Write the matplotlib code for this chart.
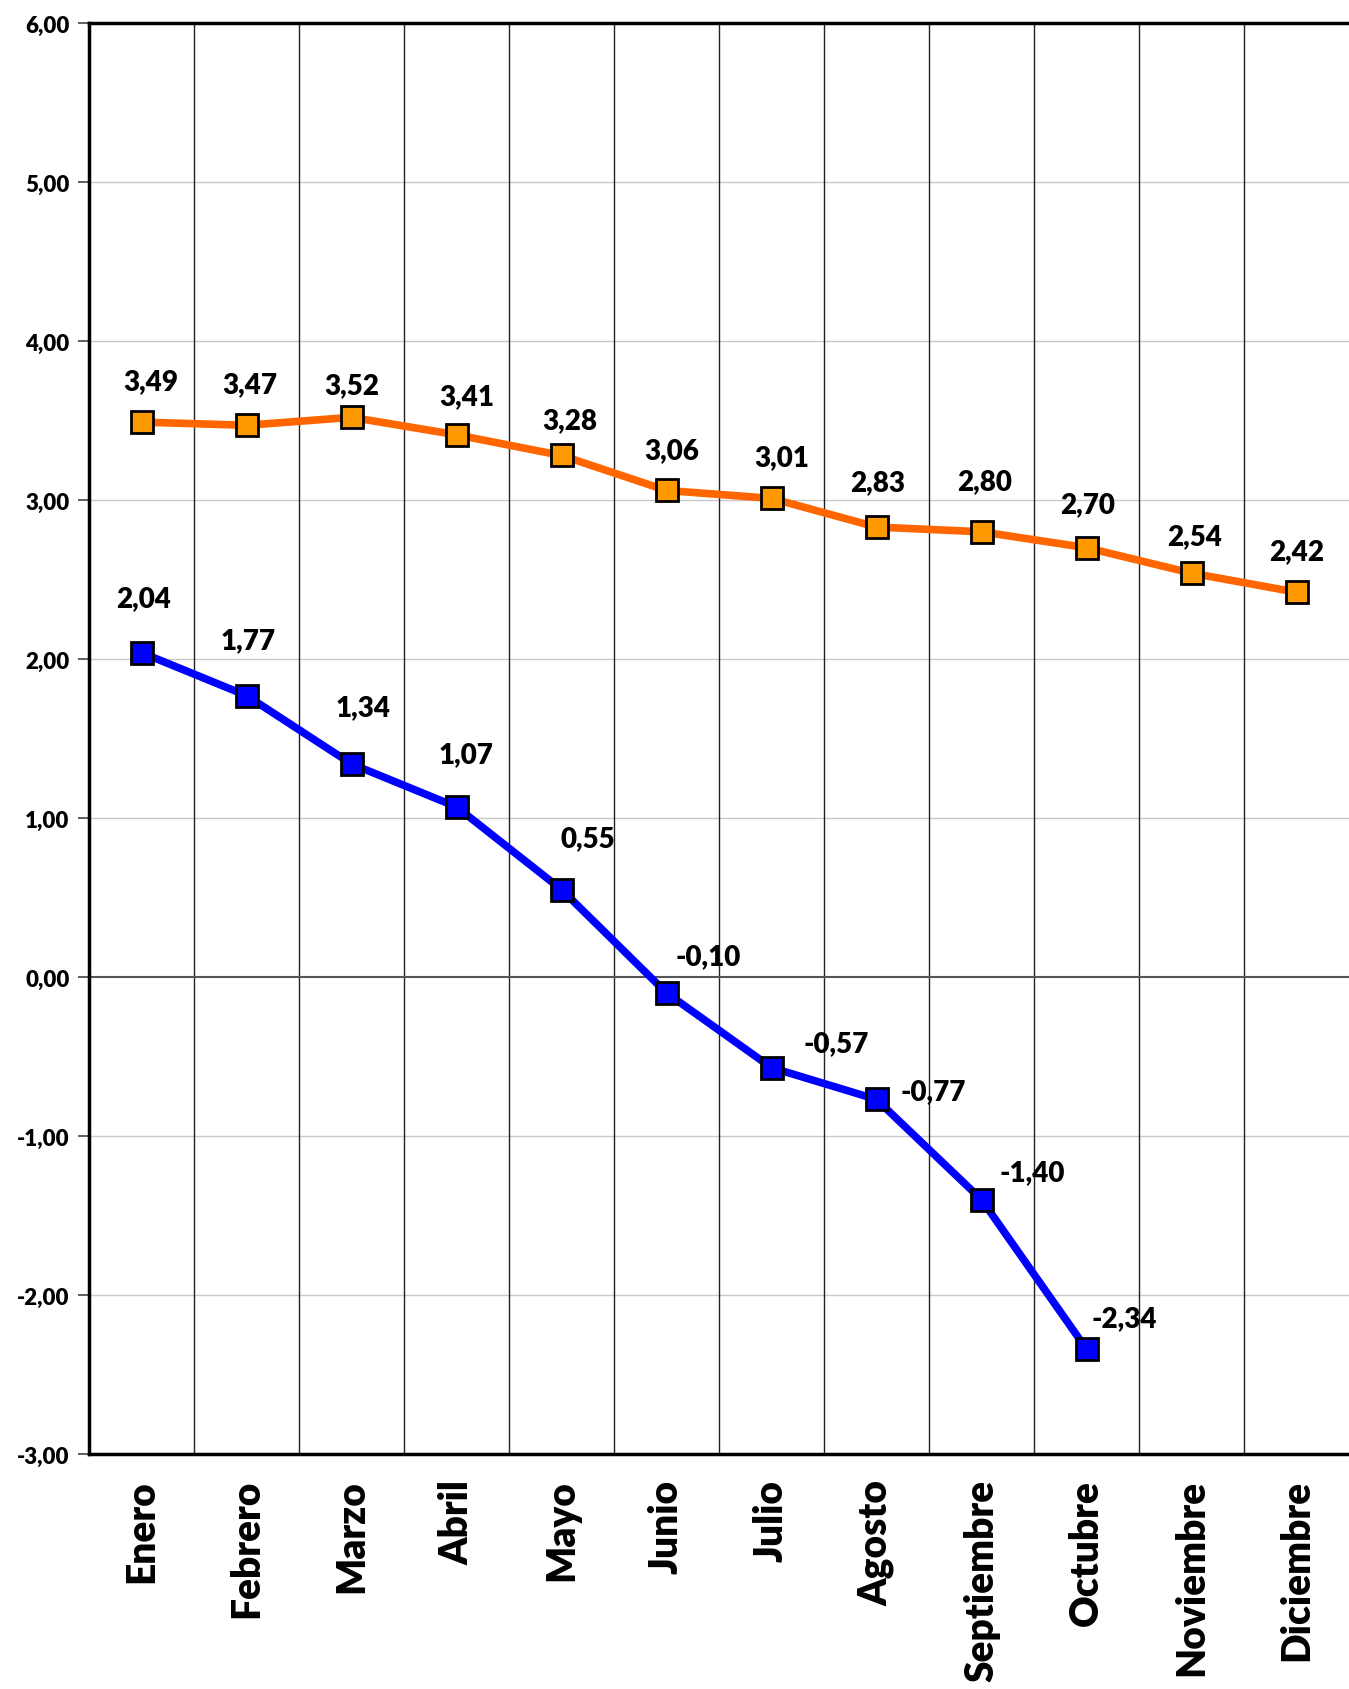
import matplotlib
matplotlib.use("Agg")
import matplotlib.pyplot as plt
from matplotlib.ticker import FixedLocator

plt.rcParams['font.family'] = ['Lato', 'DejaVu Sans']

months = ["Enero", "Febrero", "Marzo", "Abril", "Mayo", "Junio", "Julio",
          "Agosto", "Septiembre", "Octubre", "Noviembre", "Diciembre"]
orange_vals = [3.49, 3.47, 3.52, 3.41, 3.28, 3.06, 3.01, 2.83, 2.80, 2.70, 2.54, 2.42]
blue_vals = [2.04, 1.77, 1.34, 1.07, 0.55, -0.10, -0.57, -0.77, -1.40, -2.34]
y_ticks = [-3, -2, -1, 0, 1, 2, 3, 4, 5, 6]

# label offsets (pixels, relative to marker)
orange_off = [(9, 41), (3, 41), (0, 32), (10, 39), (8, 35), (5, 40), (10, 41),
              (1, 45), (3, 51), (1, 44), (3, 37), (0, 41)]
blue_off = [(2, 55), (2, 55), (12, 57), (9, 53), (26, 51), (42, 37), (65, 25),
            (57, 8), (51, 27), (38, 31)]

W, H = 1349, 1690
fig = plt.figure(figsize=(W / 100, H / 100), dpi=100)
ax = fig.add_axes([89 / W, 1 - 1455 / H, (W - 89) / W, (1455 - 24) / H])

x = list(range(len(months)))
ax.plot(x, orange_vals, color='#FF6600', lw=5.5, marker='s', ms=15.5,
        mfc='#FF9900', mec='black', mew=2, zorder=5, clip_on=False)
ax.plot(x[:len(blue_vals)], blue_vals, color='#0000FF', lw=5.5, marker='s', ms=15.5,
        mfc='#0000FF', mec='black', mew=2, zorder=5, clip_on=False)

def fmt(v):
    return f"{v:.2f}".replace('.', ',')

for i, v in enumerate(orange_vals):
    ax.annotate(fmt(v), (i, v), xytext=orange_off[i], textcoords='offset pixels',
                ha='center', va='center', fontsize=20, fontweight='heavy', zorder=6)
for i, v in enumerate(blue_vals):
    ax.annotate(fmt(v), (i, v), xytext=blue_off[i], textcoords='offset pixels',
                ha='center', va='center', fontsize=20, fontweight='heavy', zorder=6)

ax.set_xlim(-0.5, len(months) - 0.5)
ax.set_ylim(-3, 6)
ax.set_yticks(y_ticks)
ax.set_yticklabels([fmt(v) for v in y_ticks], fontsize=16, fontweight='heavy')
ax.set_xticks(x)
ax.set_xticklabels(months, rotation=90, fontsize=28, fontweight='heavy', va='top')
ax.tick_params(axis='x', length=0, pad=18)
ax.tick_params(axis='y', length=8, width=1.2, color='#444444', pad=6)

# horizontal light gridlines
for yv in y_ticks:
    if yv not in (0, -3, 6):
        ax.axhline(yv, color='#C8C8C8', lw=1, zorder=1)
ax.axhline(0, color='#555555', lw=1.5, zorder=2)
# vertical category gridlines
ax.xaxis.set_minor_locator(FixedLocator([i + 0.5 for i in range(len(months) - 1)]))
ax.grid(which='minor', axis='x', color='#222222', lw=1)
ax.tick_params(axis='x', which='minor', length=0)

for s in ['top', 'left', 'bottom']:
    ax.spines[s].set_linewidth(2.5)
    ax.spines[s].set_color('black')
ax.spines['right'].set_visible(False)

fig.savefig("out.png", dpi=100, facecolor='white')
